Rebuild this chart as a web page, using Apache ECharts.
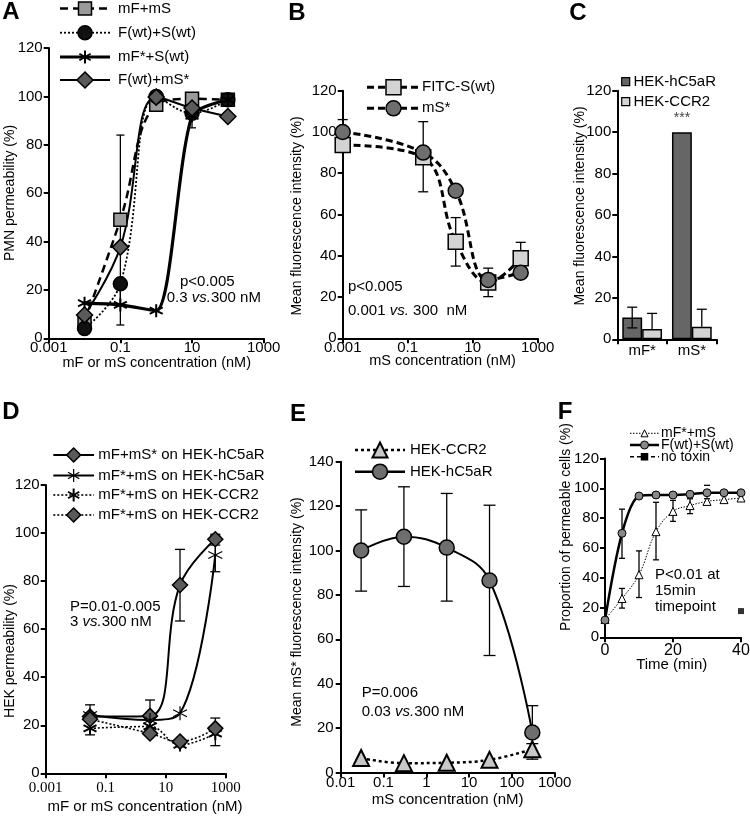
<!DOCTYPE html>
<html>
<head>
<meta charset="utf-8">
<script src="https://cdn.jsdelivr.net/npm/echarts@6/dist/echarts.min.js"></script>
<style>
html, body { margin: 0; padding: 0; background: #fff; }
#main { width: 750px; height: 820px; }
</style>
</head>
<body>
<div id="main"></div>
<script>
// A - PMN permeability
var aConc = [0.01, 0.1, 1, 10, 100];
var aMfMs = [7, 49, 96.5, 99, 98.6];
var aFwtSwt = [4, 22.5, 100, 93, 98.6];
var aMfStarSwt = [14.5, 13.8, 11.4, 92, 98.6];
var aFwtMsStar = [9.6, 37.7, 99.7, 95.2, 91.7];
var aErrors = [[0.1, 14, 84], [0.1, 5.5, 21], [10, 87, 99]];

// B - fluorescence
var bConc = [0.001, 0.3, 3, 30, 300];
var bFitcSwt = [93.7, 87.7, 46.8, 27, 38.8];
var bMsStar = [100, 90, 71.5, 28.3, 31.8];
var bErrors = [[0.001, 94, 106], [0.3, 71, 105], [3, 35, 58.5], [30, 20.2, 34], [300, 31, 46.5]];

// C - bars
var cCats = ['mF*', 'mS*'];
var cHekC5aR = [10.5, 100];
var cHekCcr2 = [5, 6];
// [category, low, high, offset in band, no low cap]
var cErrors = [[0, 5.5, 15.5, -0.2, 0], [0, 5, 12.5, 0.2, 1], [1, 6, 14.5, 0.2, 1]];

// D - HEK permeability
var dConc = [0.03, 3, 30, 450];
var dMfMsStarC5 = [23.6, 23.9, 78.4, 97.4];
var dMfStarMsC5 = [24.3, 22.2, 25, 90.9];
var dMfStarMsCcr2 = [18.7, 19.5, 11.8, 16.5];
var dMfStarMsCcr2b = [22.5, 16.6, 13.2, 18.7];
var dErrors = [[0.03, 16, 28.5], [3, 17, 30.5], [30, 63.4, 93.2], [450, 95, 99.5], [450, 83.9, 99], [450, 11.5, 23]];

// E - mS* binding
var eConc = [0.03, 0.3, 3, 30, 300];
var eHekCcr2 = [6.5, 4.2, 4.4, 5.7, 10.5];
var eHekC5aR = [100, 106.2, 101.3, 86.5, 18];
var eErrors = [[0.03, 81.7, 118.3], [0.3, 83.8, 128.7], [3, 77.2, 125.7], [30, 52.7, 120.4], [300, 18, 30.1], [300, 6, 13]];

// F - time course
var fTime = [0, 5, 10, 15, 20, 25, 30, 35, 40];
var fMfStarMs = [12, 26, 42, 70.9, 84.5, 88.4, 91.2, 92.4, 93.5];
var fFwtSwt = [11.5, 69.8, 94.8, 95.5, 95.5, 96, 97, 97, 97];
var fNoToxinT = [40];
var fNoToxin = [17.6];
var fErrors = [[5, 53, 86], [5, 19.6, 32.8], [10, 26.7, 58], [15, 52, 90.6], [20, 77.8, 91.9], [25, 83, 93], [30, 89, 93], [30, 102, 102]];

var yTicks = [0, 120, 20];
var eTicks = [0, 140, 20];

var FONT = 'Liberation Sans';
var SERIF = 'Liberation Serif';
var STAR = 'path://M10,0L10,20M1.34,5L18.66,15M1.34,15L18.66,5';

function lg(conc, vals) { return conc.map(function (c, i) { return [Math.log10(c), vals[i]]; }); }
function xy(xs, vals) { return xs.map(function (x, i) { return [x, vals[i]]; }); }
function errLog(list) { return list.map(function (e) { return [Math.log10(e[0]), e[1], e[2], 0, 0]; }); }
function errLin(list) { return list.map(function (e) { return [e[0], e[1], e[2], 0, e[1] === e[2] ? 1 : 0]; }); }
function logLabel(v) { return String(Number(Math.pow(10, v).toPrecision(1))); }

var grids = [
  {left: 48.7, top: 48, width: 215, height: 290.3},
  {left: 342.7, top: 90.7, width: 195, height: 247.6},
  {left: 617.3, top: 90.7, width: 99.4, height: 248.6},
  {left: 45.7, top: 485, width: 180, height: 288.3},
  {left: 340.7, top: 461.7, width: 214, height: 310.8},
  {left: 605, top: 458.5, width: 136, height: 178.8}
];
grids.forEach(function (g) { g.containLabel = false; g.outerBoundsMode = 'none'; });

function axisBase(gi, margin, font, size) {
  return {
    gridIndex: gi,
    axisLine: {show: true, onZero: false, lineStyle: {color: '#000', width: 2}},
    axisTick: {show: true, length: 5, lineStyle: {color: '#000', width: 2}},
    axisLabel: {color: '#000', fontSize: size || 15, fontFamily: font || FONT, margin: margin},
    splitLine: {show: false}
  };
}
function valueAxis(gi, t, margin, fmt, font, size) {
  var a = axisBase(gi, margin, font, size);
  a.type = 'value';
  a.min = t[0]; a.max = t[1]; a.interval = t[2];
  if (fmt) a.axisLabel.formatter = fmt;
  return a;
}

var xAxes = [
  valueAxis(0, [-3, 3, 2], 2, logLabel),
  valueAxis(1, [-3, 3, 2], 2, logLabel),
  (function () {
    var a = axisBase(2, 4);
    a.type = 'category';
    a.data = cCats;
    a.axisTick.alignWithLabel = false;
    return a;
  })(),
  valueAxis(3, [-3, 3, 2], 7, logLabel, SERIF, 15),
  valueAxis(4, [-2, 3, 1], 3, logLabel),
  valueAxis(5, [0, 40, 20], 5, null, FONT, 16)
];
var yAxes = [
  valueAxis(0, yTicks, 6), valueAxis(1, yTicks, 6), valueAxis(2, yTicks, 6),
  valueAxis(3, yTicks, 6), valueAxis(4, eTicks, 7), valueAxis(5, yTicks, 6)
];

function lineSeries(name, gi, data, o) {
  return {
    type: 'line', name: name, xAxisIndex: gi, yAxisIndex: gi, data: data,
    smooth: o.smooth == null ? 0.4 : o.smooth,
    symbol: o.symbol, symbolSize: o.size, showSymbol: true,
    lineStyle: {color: '#000', width: o.lw, type: o.dash || 'solid'},
    itemStyle: {color: o.fill, borderColor: '#000', borderWidth: o.bw || 1.5},
    z: o.z || 3
  };
}

function errorSeries(gi, data, capHalf, z) {
  return {
    type: 'custom', xAxisIndex: gi, yAxisIndex: gi, data: data, z: z || 2, clip: false,
    encode: {x: 0, y: [1, 2]},
    renderItem: function (params, api) {
      var band = api.size([1, 0])[0];
      var dx = api.value(3) * band;
      var lo = api.coord([api.value(0), api.value(1)]);
      var hi = api.coord([api.value(0), api.value(2)]);
      var x = lo[0] + dx, w = capHalf;
      var st = {stroke: '#000', lineWidth: 1.3};
      var kids = [
        {type: 'line', shape: {x1: x, y1: lo[1], x2: x, y2: hi[1]}, style: st},
        {type: 'line', shape: {x1: x - w, y1: hi[1], x2: x + w, y2: hi[1]}, style: st}
      ];
      if (api.value(4) !== 1) {
        kids.push({type: 'line', shape: {x1: x - w, y1: lo[1], x2: x + w, y2: lo[1]}, style: st});
      }
      return {type: 'group', children: kids};
    }
  };
}

var series = [
  errorSeries(0, errLog(aErrors), 4),
  lineSeries('mF+mS', 0, lg(aConc, aMfMs), {symbol: 'rect', size: 13, fill: '#9b9b9b', lw: 2.5, dash: [8, 5]}),
  lineSeries('F(wt)+S(wt)', 0, lg(aConc, aFwtSwt), {symbol: 'circle', size: 14, fill: '#111', lw: 1.8, dash: [2, 2]}),
  lineSeries('mF*+S(wt)', 0, lg(aConc, aMfStarSwt), {symbol: STAR, size: 13, fill: '#000', lw: 3.2, bw: 2, smooth: 0.25}),
  lineSeries('F(wt)+mS*', 0, lg(aConc, aFwtMsStar), {symbol: 'diamond', size: 16, fill: '#5a5a5a', lw: 2}),

  errorSeries(1, errLog(bErrors), 5),
  lineSeries('FITC-S(wt)', 1, lg(bConc, bFitcSwt), {symbol: 'rect', size: 15, fill: '#d3d3d3', lw: 3, dash: [7, 4]}),
  lineSeries('mS*', 1, lg(bConc, bMsStar), {symbol: 'circle', size: 15, fill: '#6e6e6e', lw: 3, dash: [7, 4]}),

  {type: 'bar', name: 'HEK-hC5aR', xAxisIndex: 2, yAxisIndex: 2, data: cHekC5aR, barGap: '0%', barCategoryGap: '20%',
    itemStyle: {color: '#666', borderColor: '#000', borderWidth: 1.5}},
  {type: 'bar', name: 'HEK-CCR2', xAxisIndex: 2, yAxisIndex: 2, data: cHekCcr2, barGap: '0%', barCategoryGap: '20%',
    itemStyle: {color: '#d4d4d4', borderColor: '#000', borderWidth: 1.5}},
  errorSeries(2, cErrors, 5, 5),

  errorSeries(3, errLog(dErrors), 5),
  lineSeries('mF+mS* on HEK-hC5aR', 3, lg(dConc, dMfMsStarC5), {symbol: 'diamond', size: 15, fill: '#5a5a5a', lw: 2}),
  lineSeries('mF*+mS on HEK-hC5aR', 3, lg(dConc, dMfStarMsC5), {symbol: STAR, size: 14, fill: '#000', lw: 2, bw: 1.2}),
  lineSeries('mF*+mS on HEK-CCR2', 3, lg(dConc, dMfStarMsCcr2), {symbol: STAR, size: 13, fill: '#000', lw: 1.6, dash: [2, 2], bw: 2}),
  lineSeries('mF*+mS on HEK-CCR2 (2)', 3, lg(dConc, dMfStarMsCcr2b), {symbol: 'diamond', size: 15, fill: '#5a5a5a', lw: 1.6, dash: [2, 2]}),

  errorSeries(4, errLog(eErrors), 6),
  lineSeries('HEK-CCR2 ', 4, lg(eConc, eHekCcr2), {symbol: 'triangle', size: 16, fill: '#c8c8c8', lw: 2.5, dash: [3, 3], bw: 2}),
  lineSeries('HEK-hC5aR ', 4, lg(eConc, eHekC5aR), {symbol: 'circle', size: 15, fill: '#6e6e6e', lw: 2}),

  errorSeries(5, errLin(fErrors), 3),
  lineSeries('mF*+mS', 5, xy(fTime, fMfStarMs), {symbol: 'triangle', size: 8, fill: '#fff', lw: 1, dash: [1.5, 1.5], bw: 1}),
  lineSeries('F(wt)+S(wt) ', 5, xy(fTime, fFwtSwt), {symbol: 'circle', size: 8, fill: '#888', lw: 2.5, bw: 1, smooth: 0.3}),
  {type: 'scatter', name: 'no toxin', xAxisIndex: 5, yAxisIndex: 5, data: xy(fNoToxinT, fNoToxin),
    symbol: 'rect', symbolSize: 6, itemStyle: {color: '#000'}}
];

// graphic helpers (legends, panel letters, titles, notes)
function txt(x, y, s, fs, extra) {
  var size = fs || 15;
  var el = {type: 'text', x: x, y: y, z: 10, style: {
    text: s, fontSize: size, fontFamily: FONT, fill: '#000', align: 'left', verticalAlign: 'middle',
    rich: {i: {fontStyle: 'italic', fontSize: size, fontFamily: FONT, fill: '#000'}}
  }};
  if (extra) { for (var k in extra) el.style[k] = extra[k]; }
  return el;
}
function vtxt(x, y, s, fs) {
  var el = txt(x, y, s, fs || 14, {align: 'center'});
  el.rotation = Math.PI / 2;
  return el;
}
function markEl(sym, cx, cy, s, fill, bw) {
  var h = s / 2;
  var st = {fill: fill, stroke: '#000', lineWidth: bw};
  if (sym === 'rect') return {type: 'rect', z: 10, shape: {x: cx - h, y: cy - h, width: s, height: s}, style: st};
  if (sym === 'circle') return {type: 'circle', z: 10, shape: {cx: cx, cy: cy, r: h}, style: st};
  if (sym === 'diamond') return {type: 'polygon', z: 10, shape: {points: [[cx, cy - h], [cx + h, cy], [cx, cy + h], [cx - h, cy]]}, style: st};
  if (sym === 'triangle') return {type: 'polygon', z: 10, shape: {points: [[cx, cy - h], [cx + h, cy + h], [cx - h, cy + h]]}, style: st};
  var d = h * 0.866, e = h * 0.5, ls = {stroke: '#000', lineWidth: bw};
  return {type: 'group', z: 10, children: [
    {type: 'line', z: 10, shape: {x1: cx, y1: cy - h, x2: cx, y2: cy + h}, style: ls},
    {type: 'line', z: 10, shape: {x1: cx - d, y1: cy - e, x2: cx + d, y2: cy + e}, style: ls},
    {type: 'line', z: 10, shape: {x1: cx - d, y1: cy + e, x2: cx + d, y2: cy - e}, style: ls}
  ]};
}
function legendRow(x1, x2, y, o, label, tx, fs) {
  return [
    {type: 'line', z: 9, shape: {x1: x1, y1: y, x2: x2, y2: y}, style: {stroke: '#000', lineWidth: o.lw, lineDash: o.dash || null}},
    markEl(o.symbol, (x1 + x2) / 2, y, o.size, o.fill, o.bw || 1.5),
    txt(tx, y, label, fs)
  ];
}

var g = [];
function add(list) { g = g.concat(list); }

// panel letters
[['A', 11, 12], ['B', 297, 13], ['C', 578, 13], ['D', 11, 412], ['E', 298, 414], ['F', 565, 412]].forEach(function (p) {
  add([txt(p[1], p[2], p[0], 24, {align: 'center', fontWeight: 'bold'})]);
});

// legend A
add(legendRow(60, 110, 8.5, {symbol: 'rect', size: 13, fill: '#9b9b9b', lw: 2.5, dash: [8, 5]}, 'mF+mS', 118));
add(legendRow(60, 110, 32.7, {symbol: 'circle', size: 14, fill: '#111', lw: 1.8, dash: [2, 2]}, 'F(wt)+S(wt)', 118));
add(legendRow(60, 110, 57, {symbol: 'star', size: 13, fill: '#000', lw: 3.2, bw: 2}, 'mF*+S(wt)', 118));
add(legendRow(60, 110, 80, {symbol: 'diamond', size: 16, fill: '#5a5a5a', lw: 2}, 'F(wt)+mS*', 118));
// legend B
add(legendRow(367, 420, 87.3, {symbol: 'rect', size: 15, fill: '#d3d3d3', lw: 3, dash: [7, 4]}, 'FITC-S(wt)', 422));
add(legendRow(367, 420, 108.3, {symbol: 'circle', size: 15, fill: '#6e6e6e', lw: 3, dash: [7, 4]}, 'mS*', 422));
// legend C
add([markEl('rect', 625.7, 81.7, 8, '#666', 1.2), txt(633.5, 81.7, 'HEK-hC5aR', 15)]);
add([markEl('rect', 625.7, 101.7, 8, '#d4d4d4', 1.2), txt(633.5, 101.7, 'HEK-CCR2', 15)]);
// legend D
add(legendRow(53.3, 94, 455, {symbol: 'diamond', size: 14, fill: '#5a5a5a', lw: 2}, 'mF+mS* on HEK-hC5aR', 98.3));
add(legendRow(53.3, 94, 475.5, {symbol: 'star', size: 13, fill: '#000', lw: 2, bw: 1.2}, 'mF*+mS on HEK-hC5aR', 98.3));
add(legendRow(53.3, 94, 495, {symbol: 'star', size: 13, fill: '#000', lw: 1.6, dash: [2, 2], bw: 2}, 'mF*+mS on HEK-CCR2', 98.3));
add(legendRow(53.3, 94, 515, {symbol: 'diamond', size: 14, fill: '#5a5a5a', lw: 1.6, dash: [2, 2]}, 'mF*+mS on HEK-CCR2', 98.3));
// legend E
add(legendRow(355, 405, 450, {symbol: 'triangle', size: 15, fill: '#c8c8c8', lw: 2.5, dash: [3, 3], bw: 2}, 'HEK-CCR2', 410));
add(legendRow(355, 405, 471.7, {symbol: 'circle', size: 15, fill: '#6e6e6e', lw: 2.5}, 'HEK-hC5aR', 410));
// legend F
add(legendRow(630, 659, 433.3, {symbol: 'triangle', size: 7, fill: '#fff', lw: 1, dash: [1.5, 1.5], bw: 1}, 'mF*+mS', 661, 14));
add(legendRow(630, 659, 445, {symbol: 'circle', size: 8, fill: '#888', lw: 2.5, bw: 1}, 'F(wt)+S(wt)', 661, 14));
add(legendRow(630, 659, 456.7, {symbol: 'rect', size: 6, fill: '#000', lw: 1.5, dash: [4, 3]}, 'no toxin', 661, 14));

// axis titles
add([
  vtxt(10, 193, 'PMN permeability (%)'),
  txt(156.7, 362.5, 'mF or mS concentration (nM)', 14.5, {align: 'center'}),
  vtxt(297.5, 216, 'Mean fluorescence intensity (%)'),
  txt(442.5, 361, 'mS concentration (nM)', 14.5, {align: 'center'}),
  vtxt(580, 206, 'Mean fluorescence intensity (%)'),
  vtxt(10, 651, 'HEK permeability (%)'),
  txt(145, 807, 'mF or mS concentration (nM)', 15, {align: 'center'}),
  vtxt(296.7, 612, 'Mean mS* fluorescence intensity (%)'),
  txt(447.7, 800, 'mS concentration (nM)', 15, {align: 'center'}),
  vtxt(566.5, 527, 'Proportion of permeable cells (%)'),
  txt(671.7, 665, 'Time (min)', 15, {align: 'center'})
]);

// notes
add([
  txt(180, 282, 'p<0.005'),
  txt(166.7, 297.7, '0.3 {i|vs.}300 nM'),
  txt(348, 287, 'p<0.005'),
  txt(348, 310.5, '0.001 {i|vs.} 300  nM'),
  txt(682, 118, '***', 14, {align: 'center', fill: '#444'}),
  txt(70, 607, 'P=0.01-0.005'),
  txt(70, 621.5, '3 {i|vs.}300 nM'),
  txt(361.7, 693.3, 'P=0.006'),
  txt(361.7, 711.7, '0.03 {i|vs.}300 nM'),
  txt(655, 575, 'P<0.01 at'),
  txt(655, 591, '15min'),
  txt(655, 607, 'timepoint')
]);

var chart = echarts.init(document.getElementById('main'));
chart.setOption({
  animation: false,
  backgroundColor: '#fff',
  grid: grids,
  xAxis: xAxes,
  yAxis: yAxes,
  series: series,
  graphic: {elements: g}
});
</script>
</body>
</html>
